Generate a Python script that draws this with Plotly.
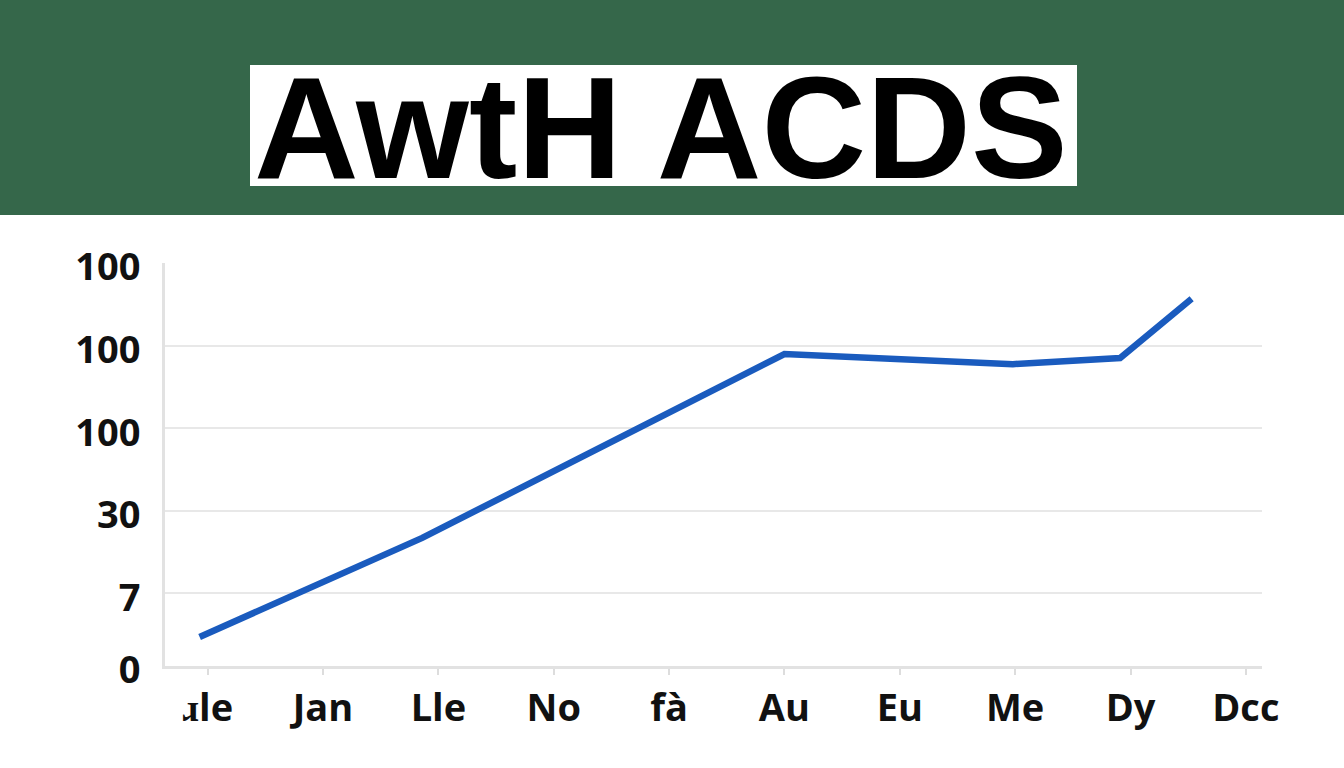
import plotly.graph_objects as go

# ---- data ----
categories = ["ɹle", "Jan", "Lle", "No", "fà", "Au", "Eu", "Me", "Dy", "Dcc"]
line_x = [-0.07, 1.86, 5.0, 6.98, 7.91, 8.53]          # positions along category axis
line_y = [7.2, 31.8, 77.4, 74.9, 76.4, 91.1]
y_tickvals = [0, 18, 38.5, 59, 79.5, 100]
y_ticktext = ["0", "7", "30", "100", "100", "100"]
title_text = "AwtH ACDS"

# ---- layout constants (pixels) ----
W, H = 1344, 768
L, R, T, B = 165, 82, 263, 102
PW, PH = W - L - R, H - T - B

def px_x(px):
    return (px - L) / PW

def px_y(py):
    return (H - B - py) / PH

fig = go.Figure()
fig.add_trace(go.Scatter(
    x=line_x, y=line_y, mode="lines",
    line=dict(color="#1A5BBE", width=6.5),
    hoverinfo="skip", showlegend=False,
))

tickfont = dict(family="Open Sans", size=38, color="#111111", weight="bold")

fig.update_layout(
    width=W, height=H,
    margin=dict(l=L, r=R, t=T, b=B, pad=0),
    paper_bgcolor="white", plot_bgcolor="white",
    showlegend=False,
    xaxis=dict(
        range=[-0.37, 9.14],
        tickmode="array", tickvals=list(range(len(categories))), ticktext=categories,
        showgrid=False, zeroline=False,
        showline=True, linecolor="#E2E2E2", linewidth=3,
        ticks="outside", ticklen=6, tickwidth=2, tickcolor="#DDDDDD",
        ticklabelstandoff=0,
        tickfont=tickfont,
    ),
    yaxis=dict(
        range=[0, 100],
        tickmode="array", tickvals=y_tickvals, ticktext=y_ticktext,
        showgrid=True, gridcolor="#E8E8E8", gridwidth=2,
        zeroline=False,
        showline=True, linecolor="#E2E2E2", linewidth=3,
        ticks="", ticklabelstandoff=14, ticklabelshift=4,
        tickfont=tickfont,
    ),
    shapes=[
        dict(type="rect", xref="paper", yref="paper",
             x0=px_x(0), x1=px_x(W), y0=px_y(215), y1=px_y(0),
             fillcolor="#35674A", line=dict(width=0), layer="above"),
        dict(type="rect", xref="paper", yref="paper",
             x0=px_x(250), x1=px_x(1077), y0=px_y(186), y1=px_y(65),
             fillcolor="white", line=dict(width=0), layer="above"),
    ],
    annotations=[
        dict(text=f"<b>{title_text}</b>", xref="paper", yref="paper",
             x=px_x(661), y=px_y(128), xanchor="center", yanchor="middle",
             showarrow=False,
             font=dict(family="Liberation Sans", size=145, color="black")),
    ],
)

fig.write_html(
    "out.html",
    config={"displayModeBar": False},
    post_script="document.body.style.margin='0';document.body.style.padding='0';",
)
